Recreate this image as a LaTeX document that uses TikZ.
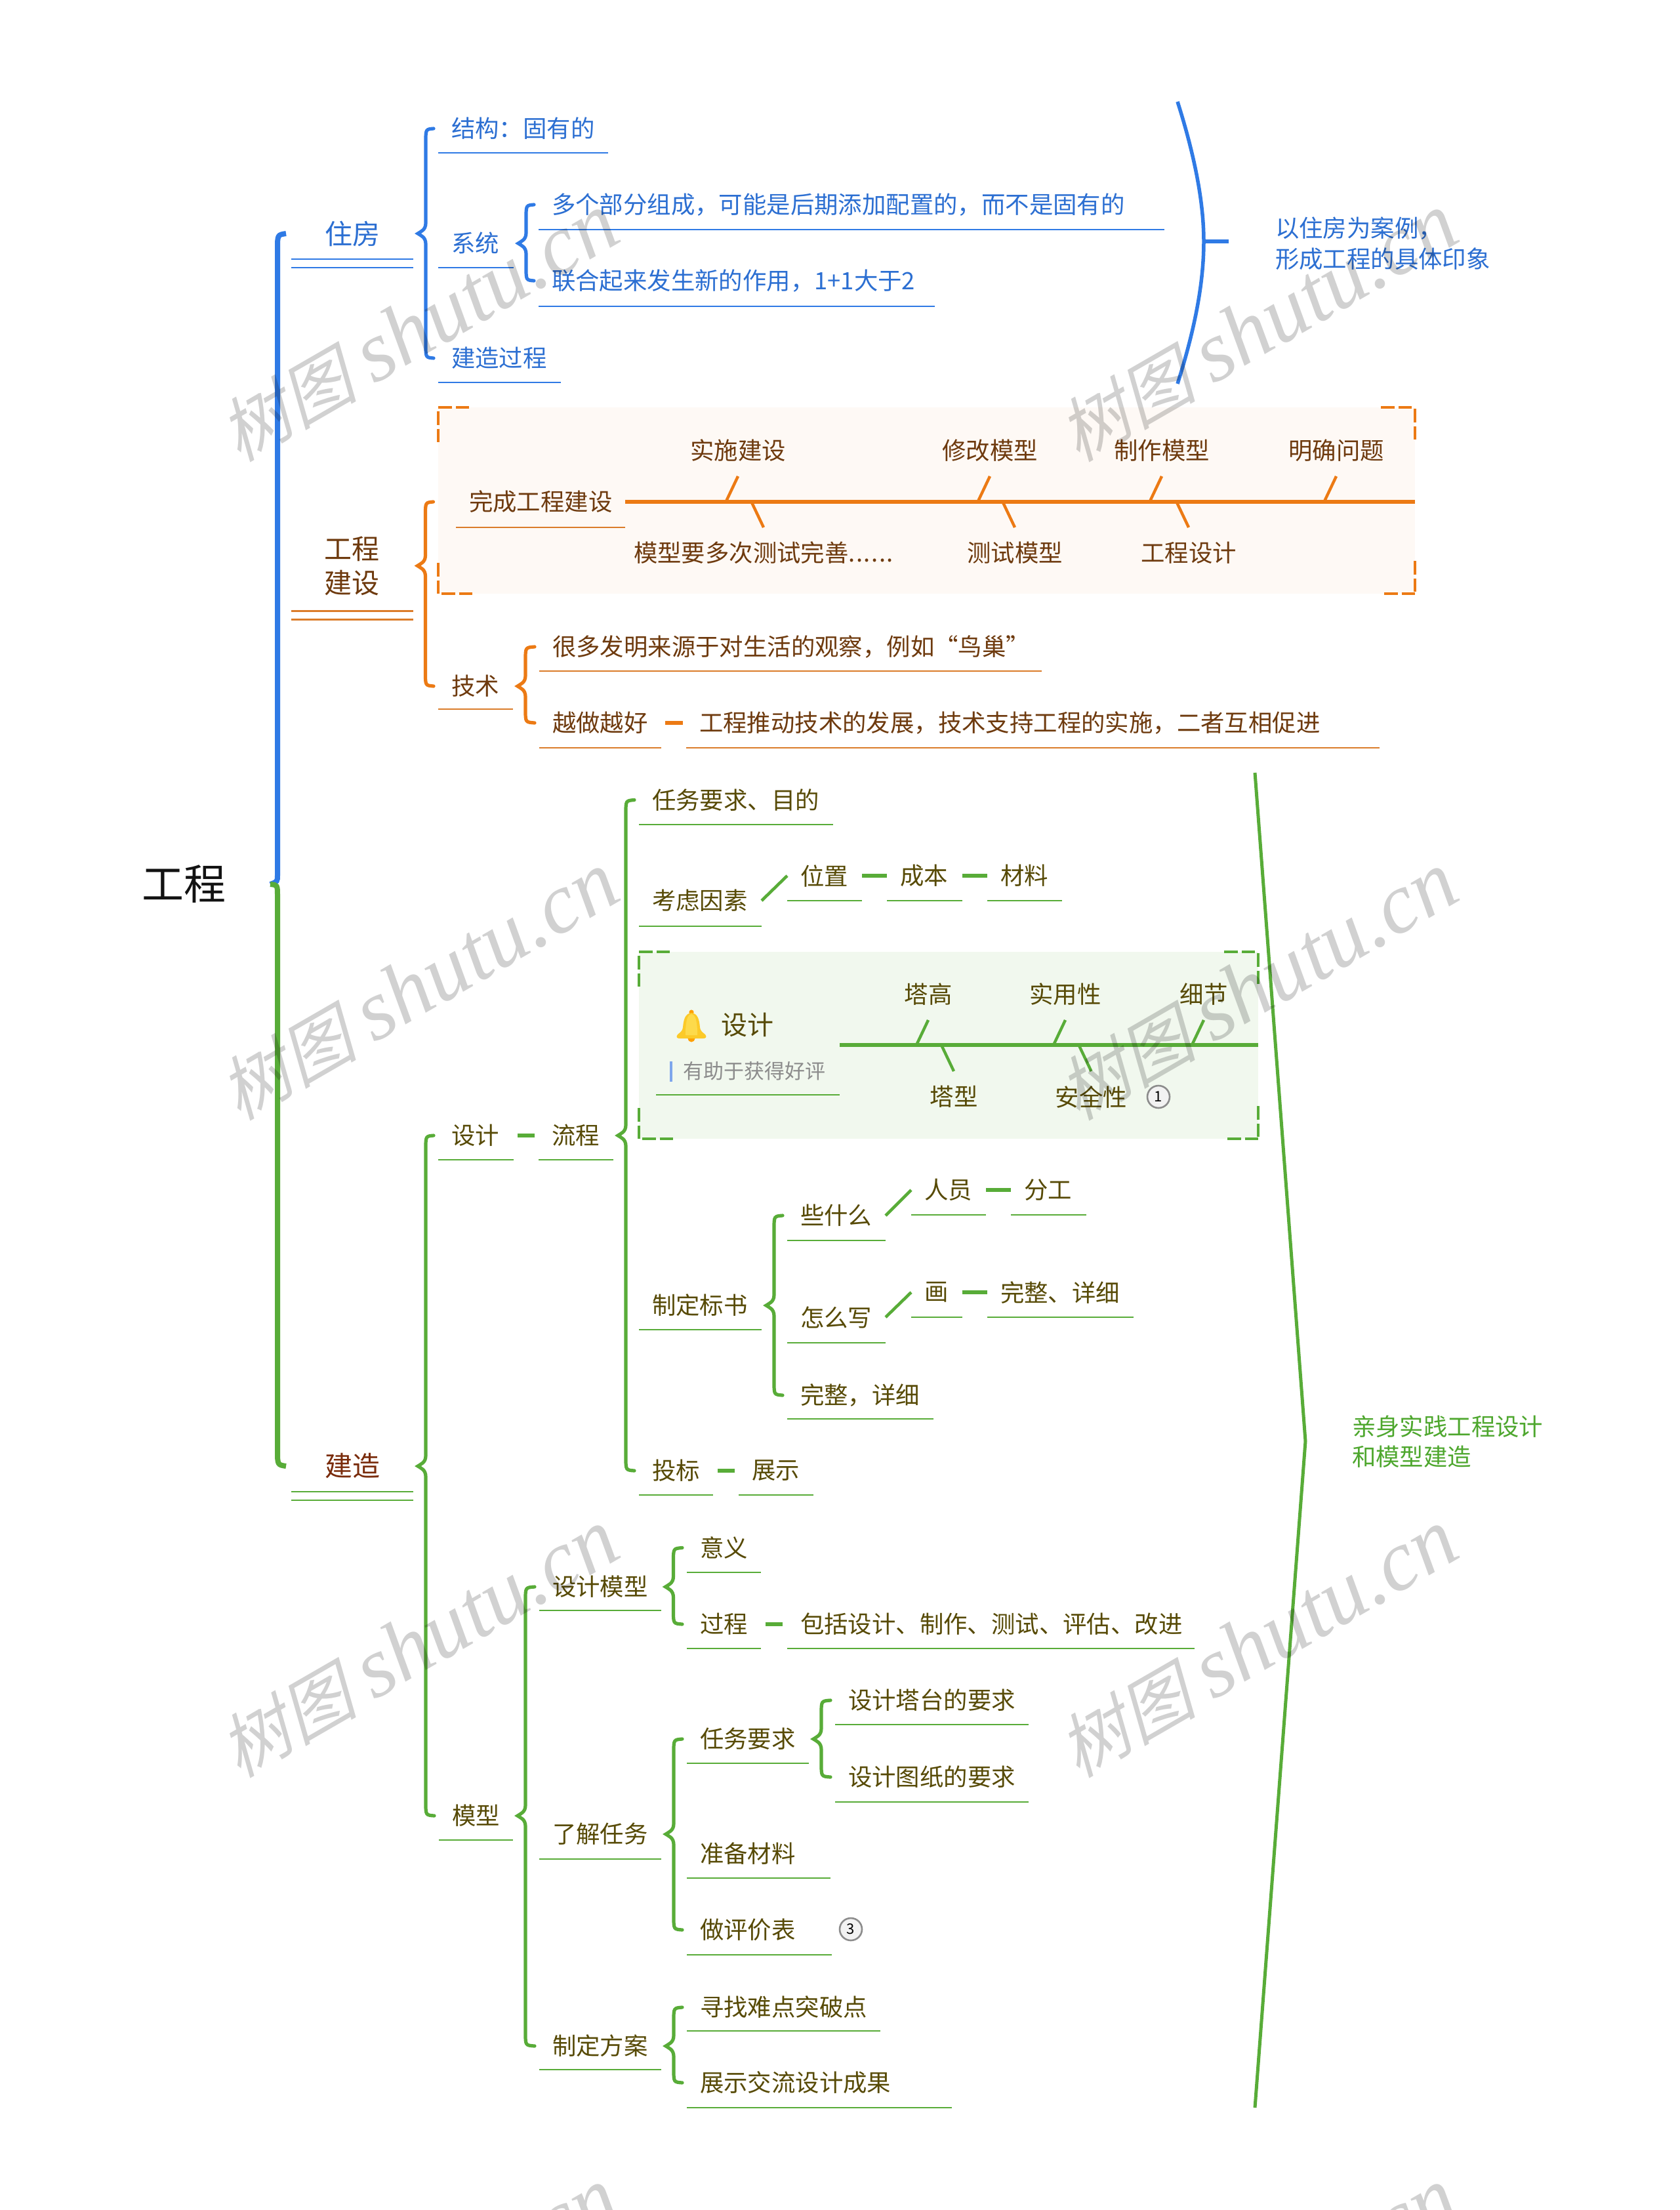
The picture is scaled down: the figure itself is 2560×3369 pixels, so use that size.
\documentclass[tikz,border=0pt]{standalone}
\usepackage{fontspec}
\setmainfont{Noto Sans CJK SC}
\newfontfamily\wmcjk[FakeSlant=0.25]{Noto Sans CJK SC}
\newfontfamily\wmlat{Liberation Serif}
\usetikzlibrary{calc}
\definecolor{tblue}{HTML}{2C6FD2}
\definecolor{lblue}{HTML}{2F7AE5}
\definecolor{torange}{HTML}{6E3A0E}
\definecolor{lorange}{HTML}{EC7A14}
\definecolor{uorange}{HTML}{DB7C2A}
\definecolor{forange}{HTML}{FEF9F5}
\definecolor{tgreen}{HTML}{574A06}
\definecolor{lgreen}{HTML}{58AC38}
\definecolor{ngreen}{HTML}{4EA72E}
\definecolor{fgreen}{HTML}{F1F8EE}
\definecolor{tred}{HTML}{7A2C0C}
\definecolor{barblue}{HTML}{7EA6EC}
\colorlet{tc}{black}\colorlet{lc}{black}\colorlet{uc}{black}
\tikzset{
  fs36/.style={font=\fontsize{36.4}{44}\selectfont},
  tp/.style={inner sep=0pt,outer sep=0pt,text=tc,fs36},
  lone/.style={inner sep=0pt,outer sep=0pt,text=tc,align=center,font=\fontsize{42}{52}\selectfont},
  fishlbl/.style={inner sep=0pt,outer sep=0pt,text=tc,fs36,minimum height=78pt},
  ul/.style={draw=uc,line width=2.8pt},
  brc/.style={draw=lc,line width=5.2pt,line cap=round},
  brr/.style={line width=8pt},
  dashl/.style={draw=lc,line width=6pt},
  slash/.style={draw=lc,line width=4.6pt},
  spine/.style={draw=lc,line width=5.8pt},
  tick/.style={draw=lc,line width=4.4pt},
  cdash/.style={line width=4.6pt,dash pattern=on 20.5pt off 6pt},
  badge/.style={circle,draw=black!45,fill=black!5,line width=2.6pt,minimum size=34pt,inner sep=0pt,
     font=\fontsize{22}{26}\selectfont,text=black},
  note/.style={inner sep=0pt,outer sep=0pt,align=left,anchor=west,fs36},
  wm/.style={inner sep=0pt,text=black,text opacity=.18,rotate=30,anchor=base east}
}
% [options]{name}{x0}{x1}{ycentre}{yunderline}{text}
\newcommand\TopicN[7][]{%
  \pgfmathsetmacro\tcx{(#3+#4)/2}%
  \pgfmathsetmacro\tw{#4-#3}%
  \pgfmathsetmacro\th{2*(#6-#5)}%
  \node[tp,#1,minimum height=\th pt] (#2) at (\tcx,#5)
     {\hbox to \tw pt{\hskip20pt #7\hss}};
  \draw[ul] (#2.south west) -- (#2.south east);
}
% [options]{parent}{first child}{last child}
\newcommand\BraceN[4][]{%
  \coordinate (Tp) at ([xshift=7pt]#2.east);
  \coordinate (Sp) at ([xshift=19pt]#2.east);
  \coordinate (E1) at ([xshift=-7pt]#3.west);
  \coordinate (E2) at ([xshift=-7pt]#4.west);
  \draw[brc,#1] (E1) .. controls ($(Sp|-E1)+(0,1)$) .. ($(Sp|-E1)+(0,20)$)
     -- ($(Tp-|Sp)+(0,-16)$) .. controls ($(Tp-|Sp)+(0,-5)$) and ($(Tp)+(4,-3)$) .. (Tp)
     .. controls ($(Tp)+(4,3)$) and ($(Tp-|Sp)+(0,5)$) .. ($(Tp-|Sp)+(0,16)$)
     -- ($(Sp|-E2)+(0,-20)$) .. controls ($(Sp|-E2)+(0,-1)$) .. (E2);
}
\newcommand\Corners[2]{%
  \draw[cdash,draw=#2] (#1.north west) -- ++(47,0);
  \draw[cdash,draw=#2] ($(#1.north west)+(0,6)$) -- ++(0,47);
  \draw[cdash,draw=#2] ($(#1.north east)+(-52,0)$) -- ++(47,0);
  \draw[cdash,draw=#2] ($(#1.north east)+(0,2)$) -- ++(0,47);
  \draw[cdash,draw=#2] ($(#1.south west)+(5,0)$) -- ++(47,0);
  \draw[cdash,draw=#2] ($(#1.south west)+(0,-47)$) -- ++(0,47);
  \draw[cdash,draw=#2] ($(#1.south east)+(-47,0)$) -- ++(47,0);
  \draw[cdash,draw=#2] ($(#1.south east)+(0,-50)$) -- ++(0,47);
}
\begin{document}
\begin{tikzpicture}[x=1pt,y=-1pt]
\useasboundingbox (0,0) rectangle (2560,3369);
\clip (0,0) rectangle (2560,3369);
\fill[white] (0,0) rectangle (2560,3369);

% root
\node[inner sep=0pt,outer sep=0pt,text=black!93,minimum width=250pt,font=\fontsize{64}{72}\selectfont] (root) at (280,1348) {工程};

% ---------- blue ----------
\begin{scope}
\colorlet{tc}{tblue}\colorlet{lc}{lblue}\colorlet{uc}{lblue}
\node[lone,minimum width=186pt,minimum height=78pt] (zf) at (537,356) {住房};
\draw[ul] (zf.south west) -- (zf.south east);
\draw[ul] ($(zf.south west)+(0,13)$) -- ($(zf.south east)+(0,13)$);
\TopicN{jg}{668}{927}{196}{233}{结构：固有的}
\TopicN{xt}{668}{783}{371}{408}{系统}
\TopicN{dg}{821}{1775}{312}{350}{多个部分组成，可能是后期添加配置的，而不是固有的}
\TopicN{lh}{821}{1425}{428}{467}{联合起来发生新的作用，1+1大于2}
\TopicN{jz}{668}{855}{546}{583}{建造过程}
\BraceN{zf}{jg}{jz}
\BraceN{xt}{dg}{lh}
\coordinate (bsa) at (1795,155);
\coordinate (bsm) at (1835,368);
\coordinate (bsb) at (1795,585);
\coordinate (bst) at (1873,368);
\draw[draw=lc,line width=5.5pt] (bsa) .. controls (1822,240) and (1835,310) .. (bsm)
   .. controls (1835,430) and (1822,500) .. (bsb);
\draw[draw=lc,line width=5.5pt] (bsm) -- (bst);
\node[note,text=tblue,font=\fontsize{36.4}{47}\selectfont] (bnote) at (1944,371) {以住房为案例，\\形成工程的具体印象};
\end{scope}

% ---------- orange ----------
\begin{scope}
\colorlet{tc}{torange}\colorlet{lc}{lorange}\colorlet{uc}{uorange}
\node[fill=forange,minimum width=1489pt,minimum height=284pt,inner sep=0pt,outer sep=0pt] (obox) at (1412.5,763) {};
\Corners{obox}{lorange}
\node[lone,minimum width=186pt,minimum height=138pt] (gc) at (536.5,862.5) {工程\\建设};
\draw[ul] (gc.south west) -- (gc.south east);
\draw[ul] ($(gc.south west)+(0,13)$) -- ($(gc.south east)+(0,13)$);
\TopicN{done}{695}{953}{765}{804}{完成工程建设}
\node[inner sep=0pt,outer sep=0pt] (odone) at (obox.west |- done.west) {};
\TopicN{js}{668}{782}{1046}{1081}{技术}
\BraceN{gc}{odone}{js}
\draw[spine] (done.east) -- (obox.east |- done.east);
\node[fishlbl] (o1) at (1125,687) {实施建设};
\node[fishlbl] (o2) at (1509,687) {修改模型};
\node[fishlbl] (o3) at (1771,687) {制作模型};
\node[fishlbl] (o4) at (2037,687) {明确问题};
\node[fishlbl] (o5) at (1164,843) {模型要多次测试完善.\kern1.5pt.\kern1.5pt.\kern1.5pt.\kern1.5pt.\kern1.5pt.};
\node[fishlbl] (o6) at (1547,843) {测试模型};
\node[fishlbl] (o7) at (1812,843) {工程设计};
\foreach \n in {o1,o2,o3,o4} \draw[tick] (\n.south) -- ($(\n.south)+(-18,38)$);
\foreach \n in {o5,o6,o7} \draw[tick] (\n.north) -- ($(\n.north)+(-19,-40)$);
\TopicN{hd}{822}{1588}{986}{1023}{很多发明来源于对生活的观察，例如“鸟巢”}
\TopicN{yz}{822}{1008}{1102}{1140}{越做越好}
\TopicN{gt}{1046}{2103}{1102}{1140}{工程推动技术的发展，技术支持工程的实施，二者互相促进}
\BraceN{js}{hd}{yz}
\draw[dashl,shorten <=6pt,shorten >=5pt] (yz.east) -- (gt.west);
\end{scope}

% ---------- green ----------
\begin{scope}
\colorlet{tc}{tgreen}\colorlet{lc}{lgreen}\colorlet{uc}{lgreen}
\node[lone,text=tred,minimum width=186pt,minimum height=78pt] (jzao) at (537,2235) {建造};
\draw[ul] (jzao.south west) -- (jzao.south east);
\draw[ul] ($(jzao.south west)+(0,13)$) -- ($(jzao.south east)+(0,13)$);
\TopicN{sj}{668}{783}{1731}{1768}{设计}
\TopicN{lc1}{821}{935}{1731}{1768}{流程}
\draw[dashl,shorten <=6pt,shorten >=6pt] (sj.east) -- (lc1.west);
\TopicN{mx}{669}{782}{2768}{2805}{模型}
\BraceN{jzao}{sj}{mx}
\TopicN{rw}{974}{1270}{1219.5}{1257}{任务要求、目的}
\TopicN{kl}{974}{1161}{1373}{1412}{考虑因素}
\TopicN{wz}{1200}{1314}{1335}{1373}{位置}
\TopicN{cb}{1352}{1467}{1335}{1373}{成本}
\TopicN{cl}{1505}{1619}{1335}{1373}{材料}
\draw[slash] (kl.east) -- (wz.west);
\draw[dashl] (wz.east) -- (cb.west);
\draw[dashl] (cb.east) -- (cl.west);

\node[fill=fgreen,minimum width=944pt,minimum height=285pt,inner sep=0pt,outer sep=0pt] (gbox) at (1446,1593.5) {};
\Corners{gbox}{lgreen}
\node[minimum width=280pt,minimum height=152pt,inner sep=0pt,outer sep=0pt] (dsg) at (1140,1593) {};
\draw[ul] (dsg.south west) -- (dsg.south east);
\node[inner sep=0pt,text=tc,font=\fontsize{40}{48}\selectfont] (dt) at (1139,1562) {设计};
\node[inner sep=0pt,text=black!45,font=\fontsize{31}{38}\selectfont] (ds) at (1150,1633) {有助于获得好评};
\fill[barblue] (1021,1618) rectangle (1025,1649);
% bell
\fill[orange!75!yellow] (1054,1583) circle (5.5);
\fill[orange!75!yellow] (1054,1543) circle (3.6);
\fill[yellow!55!orange!85!white] (1054,1544) .. controls (1044,1545) and (1042,1555) .. (1041,1566)
  .. controls (1040,1573) and (1036,1574) .. (1033,1577) .. controls (1030,1581) and (1032,1583) .. (1036,1583)
  -- (1072,1583) .. controls (1076,1583) and (1078,1581) .. (1075,1577)
  .. controls (1072,1574) and (1068,1573) .. (1067,1566) .. controls (1066,1555) and (1064,1545) .. (1054,1544) -- cycle;
\fill[yellow!65!orange!70!white] (1054,1546) .. controls (1047,1547) and (1046,1558) .. (1045,1570) -- (1045,1578) -- (1063,1578) -- (1063,1570)
  .. controls (1062,1558) and (1061,1547) .. (1054,1546) -- cycle;
\draw[spine] (dsg.east) -- (gbox.east |- dsg.east);
\node[fishlbl] (g1) at (1415,1516) {塔高};
\node[fishlbl] (g2) at (1624,1516) {实用性};
\node[fishlbl] (g3) at (1835,1516) {细节};
\node[fishlbl] (g4) at (1454,1672) {塔型};
\node[fishlbl] (g5) at (1663.5,1672) {安全性};
\foreach \n in {g1,g2,g3} \draw[tick] (\n.south) -- ($(\n.south)+(-18,38)$);
\foreach \n in {g4,g5} \draw[tick] (\n.north) -- ($(\n.north)+(-19,-40)$);
\node[badge] (b1) at (1766,1672) {1};

\TopicN{zb}{974}{1161}{1990}{2027}{制定标书}
\TopicN{xs}{1200}{1350}{1853}{1891}{些什么}
\TopicN{ry}{1389}{1503}{1814}{1852}{人员}
\TopicN{fg}{1541}{1656}{1814}{1852}{分工}
\draw[slash] (xs.east) -- (ry.west);
\draw[dashl] (ry.east) -- (fg.west);
\TopicN{zm}{1200}{1350}{2008}{2047}{怎么写}
\TopicN{hua}{1389}{1466.5}{1970}{2008}{画}
\TopicN{wx}{1505}{1728}{1970}{2008}{完整、详细}
\draw[slash] (zm.east) -- (hua.west);
\draw[dashl] (hua.east) -- (wx.west);
\TopicN{wz2}{1200}{1422.5}{2127}{2163}{完整，详细}
\BraceN{zb}{xs}{wz2}
\TopicN{tb}{974}{1087}{2242}{2279}{投标}
\TopicN{zs}{1126}{1240}{2242}{2279}{展示}
\draw[dashl,shorten <=7pt,shorten >=6pt] (tb.east) -- (zs.west);
\BraceN{lc1}{rw}{tb}

\TopicN{sm}{822}{1007.5}{2419}{2455}{设计模型}
\TopicN{yy}{1047}{1160}{2359.5}{2397}{意义}
\TopicN{gc2}{1047}{1160}{2476}{2513}{过程}
\TopicN{bk}{1200}{1821}{2476}{2513}{包括设计、制作、测试、评估、改进}
\draw[dashl,shorten <=7pt,shorten >=7pt] (gc2.east) -- (bk.west);
\BraceN{sm}{yy}{gc2}
\TopicN{lj}{822}{1008}{2796}{2834}{了解任务}
\TopicN{rq}{1047}{1233}{2651}{2688}{任务要求}
\TopicN{st}{1273}{1568}{2592}{2629}{设计塔台的要求}
\TopicN{sz}{1273}{1568}{2709}{2747}{设计图纸的要求}
\BraceN{rq}{st}{sz}
\TopicN{zc}{1047}{1266}{2826}{2863}{准备材料}
\TopicN{zp}{1047}{1268}{2942}{2980}{做评价表}
\node[badge] (b3) at (1297,2941) {3};
\BraceN{lj}{rq}{zp}
\TopicN{zf2}{822}{1008}{3119}{3155}{制定方案}
\TopicN{xz}{1047}{1341.5}{3060}{3096}{寻找难点突破点}
\TopicN{zl}{1047}{1451}{3175}{3213}{展示交流设计成果}
\BraceN{zf2}{xz}{zl}
\BraceN{mx}{sm}{zf2}

\coordinate (gsa) at (1913,1178);
\coordinate (gsm) at (1990,2197);
\coordinate (gsb) at (1913,3213);
\draw[draw=lc,line width=5pt] (gsa) -- (gsm) -- (gsb);
\node[note,text=ngreen,font=\fontsize{36.4}{46}\selectfont] (gnote) at (2061,2198) {亲身实践工程设计\\和模型建造};
\end{scope}

% root brace, blue half then green half
\coordinate (Rt) at ([xshift=7pt]root.east);
\coordinate (Rs) at ([xshift=18pt]root.east);
\coordinate (R1) at ([xshift=-8pt]zf.west);
\coordinate (R2) at ([xshift=-8pt]jzao.west);
\draw[brr,lblue] (R1) .. controls ($(Rs|-R1)+(0,2)$) .. ($(Rs|-R1)+(0,24)$)
   -- ($(Rt-|Rs)+(0,-14)$) .. controls ($(Rt-|Rs)+(0,-4)$) .. (Rt);
\draw[brr,lgreen] (Rt) .. controls ($(Rt-|Rs)+(0,1)$) .. ($(Rt-|Rs)+(0,18)$)
   -- ($(Rs|-R2)+(0,-24)$) .. controls ($(Rs|-R2)+(0,-2)$) .. (R2);

% watermark
\foreach \wx in {952,2231} \foreach \wy in {366,1370,2372,3376}
  \node[wm,name=wm\wx-\wy] at (\wx,\wy) {{\fontsize{106}{120}\selectfont\wmcjk 树图}\kern26pt{\fontsize{131}{145}\selectfont\wmlat\itshape shutu.cn}};
\end{tikzpicture}
\end{document}
